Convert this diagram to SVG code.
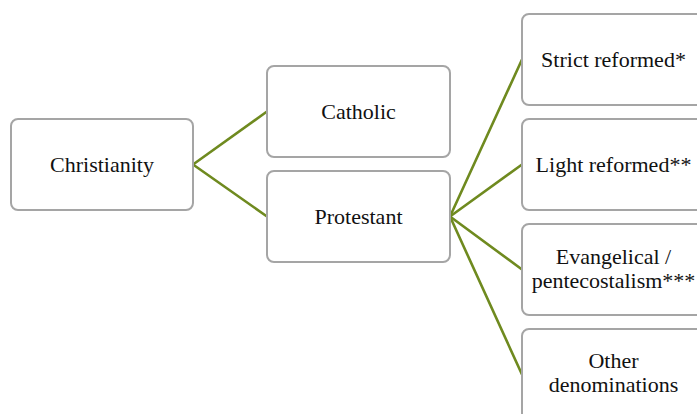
<svg xmlns="http://www.w3.org/2000/svg" width="697" height="414" viewBox="0 0 697 414">
  <style>
    .box { fill: #ffffff; stroke: #a5a5a5; stroke-width: 2; }
    .lbl { font-family: "Liberation Serif", "DejaVu Serif", serif; font-size: 22px; fill: #111111; text-anchor: middle; }
    .link { stroke: #6f8a1f; stroke-width: 2.6; fill: none; stroke-linecap: round; }
  </style>
  <rect width="697" height="414" fill="#ffffff"/>

  <g id="connectors">
    <line class="link" x1="193" y1="164.5" x2="267" y2="111.5"/>
    <line class="link" x1="193" y1="164.5" x2="267" y2="216.5"/>
    <line class="link" x1="450" y1="216.5" x2="522" y2="59.5"/>
    <line class="link" x1="450" y1="216.5" x2="522" y2="164.5"/>
    <line class="link" x1="450" y1="216.5" x2="522" y2="269.5"/>
    <line class="link" x1="450" y1="216.5" x2="522" y2="374.5"/>
  </g>

  <g id="christianity">
    <rect class="box" x="11" y="119" width="182" height="91" rx="7"/>
    <text class="lbl" x="102" y="172">Christianity</text>
  </g>
  <g id="catholic">
    <rect class="box" x="267" y="66" width="183" height="91" rx="7"/>
    <text class="lbl" x="358.5" y="119">Catholic</text>
  </g>
  <g id="protestant">
    <rect class="box" x="267" y="171" width="183" height="91" rx="7"/>
    <text class="lbl" x="358.5" y="224">Protestant</text>
  </g>
  <g id="strict-reformed">
    <rect class="box" x="522" y="14" width="183" height="91" rx="7"/>
    <text class="lbl" x="613.5" y="67">Strict reformed*</text>
  </g>
  <g id="light-reformed">
    <rect class="box" x="522" y="119" width="183" height="91" rx="7"/>
    <text class="lbl" x="613.5" y="172">Light reformed**</text>
  </g>
  <g id="evangelical">
    <rect class="box" x="522" y="224" width="183" height="91" rx="7"/>
    <text class="lbl" x="613.5" y="264">Evangelical /</text>
    <text class="lbl" x="613.5" y="288">pentecostalism***</text>
  </g>
  <g id="other">
    <rect class="box" x="522" y="329" width="183" height="91" rx="7"/>
    <text class="lbl" x="613.5" y="368">Other</text>
    <text class="lbl" x="613.5" y="392">denominations</text>
  </g>
</svg>
